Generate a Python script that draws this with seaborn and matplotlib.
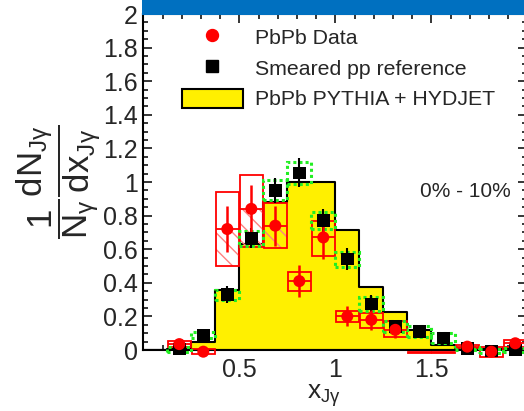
import numpy as np
import pandas as pd
import matplotlib
matplotlib.use("Agg")
import matplotlib.pyplot as plt
import seaborn as sns
from matplotlib.patches import Rectangle, Patch
from matplotlib.lines import Line2D
from matplotlib.ticker import MultipleLocator, FixedLocator, FuncFormatter

# ---------------- data ----------------
bin_edges = [0.0, 0.125, 0.25, 0.375, 0.5, 0.625, 0.75, 0.875, 1.0,
             1.125, 1.25, 1.375, 1.5, 1.625, 1.75, 1.875, 2.0]
bin_centers = [0.0625, 0.1875, 0.3125, 0.4375, 0.5625, 0.6875, 0.8125, 0.9375,
               1.0625, 1.1875, 1.3125, 1.4375, 1.5625, 1.6875, 1.8125, 1.9375]

# PbPb PYTHIA + HYDJET (yellow histogram)
mc_vals = [0.0, 0.005, 0.045, 0.357, 0.63, 0.88, 1.0, 1.0,
           0.714, 0.377, 0.225, 0.12, 0.03, 0.01, 0.005, 0.005]

# Smeared pp reference (black squares)
pp_vals = [np.nan, 0.005, 0.09, 0.33, 0.665, 0.95, 1.055, 0.77,
           0.54, 0.275, 0.14, 0.11, 0.07, 0.01, -0.005, 0.0]
pp_stat = [np.nan, 0.02, 0.03, 0.05, 0.06, 0.075, 0.085, 0.07,
           0.065, 0.05, 0.04, 0.035, 0.03, 0.01, 0.01, 0.01]
pp_sys = [np.nan, 0.015, 0.02, 0.03, 0.045, 0.06, 0.065, 0.05,
          0.045, 0.04, 0.035, 0.035, 0.03, 0.01, 0.01, 0.01]

# PbPb data (red circles)
pbpb_vals = [np.nan, 0.035, -0.01, 0.72, 0.84, 0.74, 0.41, 0.67,
             0.20, 0.18, 0.12, np.nan, np.nan, 0.02, -0.01, 0.04]
pbpb_stat = [np.nan, 0.02, 0.02, 0.137, 0.14, 0.12, 0.095, 0.13,
             0.06, 0.06, 0.05, np.nan, np.nan, 0.015, 0.02, 0.02]
box_lo = [np.nan, 0.016, -0.025, 0.50, 0.615, 0.607, 0.35, 0.56,
          0.165, 0.13, 0.08, -0.02, -0.02, 0.01, -0.04, 0.02]
box_hi = [np.nan, 0.055, 0.005, 0.94, 1.04, 0.875, 0.465, 0.77,
          0.23, 0.22, 0.17, -0.01, -0.01, 0.03, 0.02, 0.06]
hatch_top = [np.nan, np.nan, np.nan, 0.72, 0.84, 0.74, np.nan, np.nan,
             np.nan, np.nan, np.nan, np.nan, np.nan, np.nan, np.nan, np.nan]

y_ticks = [0, 0.2, 0.4, 0.6, 0.8, 1.0, 1.2, 1.4, 1.6, 1.8, 2.0]
x_ticks = [0.5, 1.0, 1.5]
legend_labels = ["PbPb Data", "Smeared pp reference", "PbPb PYTHIA + HYDJET"]
centrality_text = "0% - 10%"

# ---------------- style ----------------
sns.set_style("ticks")
plt.rcParams['font.family'] = ['Liberation Sans', 'DejaVu Sans']
plt.rcParams['mathtext.fontset'] = 'custom'
plt.rcParams['mathtext.rm'] = 'Liberation Sans'
plt.rcParams['mathtext.it'] = 'Liberation Sans'
plt.rcParams['mathtext.bf'] = 'Liberation Sans:bold'

W, H = 524, 411
fig = plt.figure(figsize=(W / 100, H / 100), dpi=100)
ax = fig.add_axes([143.3 / W, (H - 350) / H, 384 / W, 336 / H])

YELLOW = '#FFF000'
RED = '#FF0000'
GREEN = '#22EE22'

mc_df = pd.DataFrame({'x': bin_centers, 'w': mc_vals})
# yellow histogram
sns.histplot(data=mc_df, x='x', weights='w', bins=bin_edges, element='step',
             fill=True, color=YELLOW, alpha=1, edgecolor='black', linewidth=1.5,
             ax=ax, zorder=1)

# red sys boxes
for xc, lo, hi, ht in zip(bin_centers, box_lo, box_hi, hatch_top):
    if np.isnan(lo):
        continue
    if not np.isnan(ht):
        ax.add_patch(Rectangle((xc - 0.06, lo), 0.12, ht - lo, facecolor='none',
                               edgecolor='#FF8080', hatch='\\\\', linewidth=0, zorder=2))
    ax.add_patch(Rectangle((xc - 0.06, lo), 0.12, hi - lo, facecolor='none',
                           edgecolor=RED, linewidth=1.3, zorder=3, clip_on=False))

# green sys boxes for pp
for xc, v, s in zip(bin_centers, pp_vals, pp_sys):
    if np.isnan(v):
        continue
    ax.add_patch(Rectangle((xc - 0.0625, v - s), 0.125, 2 * s, facecolor='none',
                           edgecolor=GREEN, linewidth=2.2, linestyle=(0, (1, 1)),
                           zorder=4, clip_on=False))

# error bars
ax.errorbar(bin_centers, pp_vals, yerr=pp_stat, fmt='none', ecolor='black',
            elinewidth=1.5, capsize=0, zorder=5)
ax.errorbar(bin_centers, pbpb_vals, yerr=pbpb_stat, fmt='none', ecolor=RED,
            elinewidth=1.8, capsize=0, zorder=6)
ax.errorbar(bin_centers, pbpb_vals, xerr=0.06, fmt='none', ecolor=RED,
            elinewidth=1.3, capsize=0, zorder=6)

sns.scatterplot(x=bin_centers, y=pp_vals, marker='s', s=80, color='black',
                edgecolor='none', ax=ax, zorder=7, clip_on=False)
sns.scatterplot(x=bin_centers, y=pbpb_vals, marker='o', s=75, color=RED,
                edgecolor='none', ax=ax, zorder=8, clip_on=False)

ax.set_xlim(0, 2)
ax.set_ylim(0, 2)

# ticks
ax.xaxis.set_major_locator(FixedLocator(x_ticks))
ax.xaxis.set_minor_locator(MultipleLocator(0.1))
ax.yaxis.set_major_locator(FixedLocator(y_ticks))
ax.yaxis.set_minor_locator(MultipleLocator(0.05))
ax.yaxis.set_major_formatter(FuncFormatter(lambda v, p: f"{v:g}"))
ax.xaxis.set_major_formatter(FuncFormatter(lambda v, p: f"{v:g}"))
ax.tick_params(which='both', direction='in', top=True, right=True, width=1.1,
               labelsize=18, color='black')
ax.tick_params(which='major', length=6.5)
ax.tick_params(which='minor', length=3.5)
ax.tick_params(axis='y', pad=4)
ax.tick_params(axis='x', pad=6)
for sp in ax.spines.values():
    sp.set_linewidth(1.5)
    sp.set_color('black')
    sp.set_visible(True)

ax.set_xlabel(r'$\mathrm{x}_{\mathrm{J}\gamma}$', fontsize=19, labelpad=0)
ax.xaxis.set_label_coords(0.47, -0.095)
ax.xaxis.label.set_va('top')
ax.set_ylabel(r'$\dfrac{1}{\mathrm{N}_{\gamma}}\dfrac{\mathrm{dN}_{\mathrm{J}\gamma}}{\mathrm{dx}_{\mathrm{J}\gamma}}$',
              fontsize=25, labelpad=0)

ax.text(1.44, 0.942, centrality_text, fontsize=15, ha='left', va='center')

handles = [
    Line2D([], [], marker='o', color=RED, linestyle='none', markersize=8.6),
    Line2D([], [], marker='s', color='black', linestyle='none', markersize=8.6),
    Patch(facecolor=YELLOW, edgecolor='black', linewidth=1.5),
]
fig.legend(handles, legend_labels, loc='upper left',
           bbox_to_anchor=(182 / W, 1 - 27 / H), frameon=False, fontsize=15.3,
           borderpad=0, borderaxespad=0, handlelength=2.85, handleheight=1.0,
           handletextpad=0.6, labelspacing=0.47)

# blue banner on top
fig.add_artist(Rectangle((142 / W, 1 - 15 / H), 1 - 142 / W, 15 / H,
                         transform=fig.transFigure, facecolor='#0070C0',
                         edgecolor='none', zorder=20))

fig.savefig('out.png', dpi=100)
